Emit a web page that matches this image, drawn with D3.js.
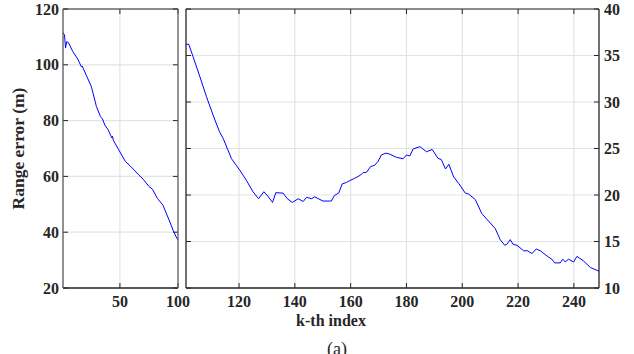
<!DOCTYPE html>
<html>
<head>
<meta charset="utf-8">
<script src="https://cdn.jsdelivr.net/npm/d3@7"></script>
<style>
  body { margin: 0; background: #fff; }
  svg text { font-family: "Liberation Serif", "Times New Roman", serif; font-weight: bold; fill: #262626; }
</style>
</head>
<body>
<div id="chart"></div>
<script>

//******************************************************************************
//**  Data
//******************************************************************************
var leftK   = [1, 2.3, 3.2, 4.2, 5.8, 9.5, 13.8, 16.8, 17.5, 18.3, 21, 25.4, 29.8, 33.3, 35, 37, 40, 43, 43.6, 44.3, 49, 54.8, 59, 66.3, 70, 75, 78, 82.3, 87, 92.3, 96, 99, 100];
var leftErr = [111.5, 110.7, 106, 108.3, 107.9, 104.7, 102, 99.3, 99.6, 98.8, 96.3, 92.2, 85, 81.4, 80.6, 78.4, 76.6, 73.8, 74.4, 73, 69.5, 65.3, 63.7, 60.5, 59, 56.4, 55.4, 52.1, 49.7, 44.4, 40.5, 37.8, 37.2];

var rightK   = [101, 102, 103.5, 106, 108.3, 110.7, 113, 114.3, 117.3, 119, 120.2, 122.6, 125, 127, 128.9, 130.4, 132, 133.2, 135.8, 137.3, 139.1, 141.2, 143, 144.2, 146, 147.1, 150.1, 153.1, 154.2, 155.7, 157, 158.5, 159.7, 161.5, 163.6, 164.4, 165.7, 167.1, 168.6, 169.8, 171, 172.6, 174, 176.4, 178.8, 180, 181.2, 182.4, 184.8, 185.7, 187.2, 189.2, 191.3, 192.5, 194, 195.2, 196.9, 198.7, 201.1, 202.3, 204.7, 207, 209.4, 211.8, 213.6, 215.2, 216, 217.2, 218.2, 219.6, 222, 223.4, 225, 226.5, 228, 231, 232.1, 233.1, 235.1, 236, 236.9, 238.1, 239.9, 241.1, 243.5, 245.9, 248.3, 249];
var rightErr = [36.2, 36.2, 34.9, 32.7, 30.6, 28.6, 26.8, 26.1, 23.9, 23.2, 22.7, 21.6, 20.35, 19.6, 20.35, 19.85, 19.2, 20.25, 20.2, 19.6, 19.2, 19.6, 19.3, 19.75, 19.6, 19.8, 19.35, 19.35, 19.95, 20.2, 21.2, 21.35, 21.55, 21.8, 22.15, 22.4, 22.45, 23.05, 23.2, 23.6, 24.3, 24.5, 24.4, 24.05, 23.9, 24.3, 24.2, 24.95, 25.2, 25, 24.65, 24.9, 23.95, 23.8, 22.8, 23.3, 21.95, 21.25, 20.2, 20.1, 19.5, 18, 17.2, 16.4, 15.2, 14.6, 14.7, 15.2, 14.7, 14.6, 14, 14, 13.7, 14.2, 14, 13.3, 13.1, 12.7, 12.7, 13.1, 12.8, 13.1, 12.8, 13.4, 12.9, 12.2, 11.9, 11.8];

var leftXTicks  = [50, 100];
var leftYTicks  = [20, 40, 60, 80, 100, 120];
var rightXTicks = [120, 140, 160, 180, 200, 220, 240];
var rightYTicks = [10, 15, 20, 25, 30, 35, 40];


//******************************************************************************
//**  Chart
//******************************************************************************
var width = 634, height = 354;
var plotTop = 9, plotBottom = 288;
var gridColor = "#e3e3e3", axisColor = "#262626", lineColor = "#0000ff";
var tickLen = 5;

var svg = d3.select("#chart").append("svg")
    .attr("width", width)
    .attr("height", height);

var panels = [
    {
        x: d3.scaleLinear().domain([1, 100]).range([63, 178]),
        y: d3.scaleLinear().domain([20, 120]).range([plotBottom, plotTop]),
        xTicks: leftXTicks, yTicks: leftYTicks,
        k: leftK, v: leftErr, labelSide: "left"
    },
    {
        x: d3.scaleLinear().domain([101, 249]).range([186, 599]),
        y: d3.scaleLinear().domain([10, 40]).range([plotBottom, plotTop]),
        xTicks: rightXTicks, yTicks: rightYTicks,
        k: rightK, v: rightErr, labelSide: "right"
    }
];

panels.forEach(function(p, i){
    var g = svg.append("g");
    var x0 = p.x.range()[0], x1 = p.x.range()[1];

  //Grid
    g.selectAll(".vg").data(p.xTicks).enter().append("line")
        .attr("x1", function(d){ return p.x(d); })
        .attr("x2", function(d){ return p.x(d); })
        .attr("y1", plotTop).attr("y2", plotBottom)
        .attr("stroke", gridColor).attr("stroke-width", 1.2);
    g.selectAll(".hg").data(p.yTicks).enter().append("line")
        .attr("x1", x0).attr("x2", x1)
        .attr("y1", function(d){ return p.y(d); })
        .attr("y2", function(d){ return p.y(d); })
        .attr("stroke", gridColor).attr("stroke-width", 1.2);

  //Line
    var line = d3.line()
        .x(function(d, j){ return p.x(p.k[j]); })
        .y(function(d){ return p.y(d); });
    g.append("path")
        .datum(p.v)
        .attr("d", line)
        .attr("fill", "none")
        .attr("stroke", lineColor)
        .attr("stroke-width", 1);

  //Inner ticks (bottom, top, left, right)
    var ticks = g.append("g").attr("stroke", axisColor).attr("stroke-width", 1);
    p.xTicks.forEach(function(t){
        var xx = p.x(t);
        ticks.append("line").attr("x1", xx).attr("x2", xx).attr("y1", plotBottom).attr("y2", plotBottom - tickLen);
        ticks.append("line").attr("x1", xx).attr("x2", xx).attr("y1", plotTop).attr("y2", plotTop + tickLen);
    });
    p.yTicks.forEach(function(t){
        var yy = p.y(t);
        ticks.append("line").attr("x1", x0).attr("x2", x0 + tickLen).attr("y1", yy).attr("y2", yy);
        ticks.append("line").attr("x1", x1).attr("x2", x1 - tickLen).attr("y1", yy).attr("y2", yy);
    });

  //Box
    g.append("line").attr("x1", x0).attr("x2", x1).attr("y1", plotTop).attr("y2", plotTop)
        .attr("stroke", axisColor).attr("stroke-width", 1);
    g.append("line").attr("x1", x0).attr("x2", x1).attr("y1", plotBottom).attr("y2", plotBottom)
        .attr("stroke", axisColor).attr("stroke-width", 1.3);
    g.append("line").attr("x1", x0).attr("x2", x0).attr("y1", plotTop).attr("y2", plotBottom)
        .attr("stroke", i === 0 ? "#555" : axisColor).attr("stroke-width", 1.3);
    g.append("line").attr("x1", x1).attr("x2", x1).attr("y1", plotTop).attr("y2", plotBottom)
        .attr("stroke", i === 0 ? "#666" : axisColor).attr("stroke-width", 1.3);

  //Tick labels
    g.selectAll(".xl").data(p.xTicks).enter().append("text")
        .attr("x", function(d){ return p.x(d); })
        .attr("y", 307)
        .attr("text-anchor", "middle")
        .style("font-size", "16px")
        .text(function(d){ return d; });

    g.selectAll(".yl").data(p.yTicks).enter().append("text")
        .attr("x", p.labelSide === "left" ? x0 - 4 : x1 + 5)
        .attr("y", function(d){ return p.y(d) + 5.5; })
        .attr("text-anchor", p.labelSide === "left" ? "end" : "start")
        .style("font-size", "16px")
        .text(function(d){ return d; });
});

//Axis titles
svg.append("text")
    .attr("transform", "translate(24," + ((plotTop + plotBottom) / 2) + ") rotate(-90)")
    .attr("text-anchor", "middle")
    .style("font-size", "17.5px")
    .text("Range error (m)");

svg.append("text")
    .attr("x", 331).attr("y", 326)
    .attr("text-anchor", "middle")
    .style("font-size", "16px")
    .text("k-th index");

svg.append("text")
    .attr("x", 337).attr("y", 355)
    .attr("text-anchor", "middle")
    .style("font-size", "18px")
    .style("font-weight", "normal")
    .text("(a)");

</script>
</body>
</html>
